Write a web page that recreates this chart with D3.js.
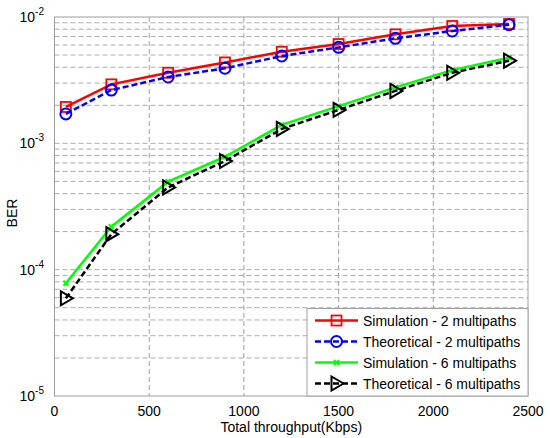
<!DOCTYPE html>
<html>
<head>
<meta charset="utf-8">
<script src="https://cdn.jsdelivr.net/npm/d3@7"></script>
<style>
  body { margin: 0; background: #fff; }
  text { font-family: "Liberation Sans", Arial, sans-serif; fill: #000; }
</style>
</head>
<body>
<div id="chart"></div>
<script>
// data
var throughput = [60, 300, 600, 900, 1200, 1500, 1800, 2100, 2400];
var sim2 = [1.94e-3, 2.93e-3, 3.62e-3, 4.37e-3, 5.31e-3, 6.11e-3, 7.29e-3, 8.49e-3, 8.8e-3];
var theo2 = [1.71e-3, 2.64e-3, 3.35e-3, 3.93e-3, 4.91e-3, 5.75e-3, 6.78e-3, 7.75e-3, 8.7e-3];
var sim6 = [7.8e-5, 2.19e-4, 4.97e-4, 7.83e-4, 1.40e-3, 1.97e-3, 2.77e-3, 3.80e-3, 4.76e-3];
var theo6 = [5.93e-5, 1.91e-4, 4.48e-4, 7.24e-4, 1.30e-3, 1.84e-3, 2.60e-3, 3.62e-3, 4.51e-3];
var xTicks = [0, 500, 1000, 1500, 2000, 2500];
var yDecades = [-5, -4, -3, -2];
var seriesNames = ["Simulation - 2 multipaths", "Theoretical - 2 multipaths",
                   "Simulation - 6 multipaths", "Theoretical - 6 multipaths"];

var W = 550, H = 438;
var pLeft = 54.5, pRight = 528, pTop = 17, pBottom = 396;

var svg = d3.select("#chart").append("svg")
    .attr("width", W).attr("height", H);

var x = d3.scaleLinear().domain([0, 2500]).range([pLeft, pRight]);
var y = d3.scaleLog().domain([1e-5, 1e-2]).range([pBottom, pTop]);

//grid lines
var grid = svg.append("g");
var minorY = [];
yDecades.slice(0, 3).forEach(function(p){
  for (var m = 1; m <= 9; m++) minorY.push(m * Math.pow(10, p));
});
grid.selectAll("line.hy").data(minorY.filter(function(v){ return v > 1e-5; }))
  .enter().append("line")
    .attr("x1", pLeft).attr("x2", pRight)
    .attr("y1", function(d){ return y(d); })
    .attr("y2", function(d){ return y(d); })
    .attr("stroke", "#ababab").attr("stroke-width", 1)
    .attr("stroke-dasharray", "5,3");
grid.selectAll("line.vx").data(xTicks.slice(1, -1))
  .enter().append("line")
    .attr("y1", pTop).attr("y2", pBottom)
    .attr("x1", function(d){ return x(d); })
    .attr("x2", function(d){ return x(d); })
    .attr("stroke", "#a0a0a0").attr("stroke-width", 1)
    .attr("stroke-dasharray", "5,3");

//frame
svg.append("rect")
  .attr("x", pLeft).attr("y", pTop)
  .attr("width", pRight - pLeft).attr("height", pBottom - pTop)
  .attr("fill", "none").attr("stroke", "#a0a0a0").attr("stroke-width", 1);

//x tick labels
svg.selectAll("text.xt").data(xTicks).enter().append("text")
  .attr("x", function(d){ return x(d); })
  .attr("y", pBottom + 20)
  .attr("text-anchor", "middle")
  .style("font-size", "14px")
  .text(function(d){ return d; });

//y tick labels 10^p
var yt = svg.selectAll("text.yt").data(yDecades).enter().append("text")
  .attr("x", 44)
  .attr("y", function(d){ return y(Math.pow(10, d)) + 5; })
  .attr("text-anchor", "end")
  .style("font-size", "14px");
yt.append("tspan").text("10");
yt.append("tspan").attr("dy", -7).style("font-size", "10px")
  .text(function(d){ return "-" + Math.abs(d); });

//axis titles
svg.append("text")
  .attr("x", (pLeft + pRight) / 2).attr("y", 432)
  .attr("text-anchor", "middle").style("font-size", "14px")
  .text("Total throughput(Kbps)");
svg.append("text")
  .attr("transform", "translate(17," + 213 + ") rotate(-90)")
  .attr("text-anchor", "middle").style("font-size", "14px")
  .text("BER");

//series
var styles = [
  { vals: sim2, color: "#ff0000", dash: null, marker: "square" },
  { vals: theo2, color: "#0000ff", dash: "6,3", marker: "circle" },
  { vals: sim6, color: "#00ff00", dash: null, marker: "x" },
  { vals: theo6, color: "#000000", dash: "6,3", marker: "tri" }
];

var line = d3.line()
  .x(function(d){ return x(d[0]); })
  .y(function(d){ return y(d[1]); });

function drawMarker(g, type, color){
  if (type == "square") {
    g.append("rect").attr("x", -5).attr("y", -5).attr("width", 10).attr("height", 10)
      .attr("fill", "none").attr("stroke", color).attr("stroke-width", 1.8);
  } else if (type == "circle") {
    g.append("circle").attr("r", 5.5)
      .attr("fill", "none").attr("stroke", color).attr("stroke-width", 2);
  } else if (type == "x") {
    g.append("path").attr("d", "M-2.5,-2.5L2.5,2.5M-2.5,2.5L2.5,-2.5")
      .attr("stroke", color).attr("stroke-width", 2);
  } else {
    g.append("path").attr("d", "M-5,-7L7,0L-5,7Z")
      .attr("fill", "none").attr("stroke", color).attr("stroke-width", 2);
  }
}

var plot = svg.append("g");
styles.forEach(function(s){
  var pts = throughput.map(function(t, i){ return [t, s.vals[i]]; });
  plot.append("path").attr("d", line(pts))
    .attr("fill", "none").attr("stroke", s.color).attr("stroke-width", 2.5)
    .attr("stroke-dasharray", s.dash);
  pts.forEach(function(p){
    var g = plot.append("g").attr("transform", "translate(" + x(p[0]) + "," + y(p[1]) + ")");
    drawMarker(g, s.marker, s.color);
  });
});

//legend
var lg = svg.append("g");
lg.append("rect").attr("x", 307).attr("y", 308.5).attr("width", 221).attr("height", 87.5)
  .attr("fill", "#fff").attr("stroke", "#a0a0a0").attr("stroke-width", 1);
styles.forEach(function(s, i){
  var ly = 320.5 + i * 21;
  lg.append("line").attr("x1", 315).attr("x2", 358).attr("y1", ly).attr("y2", ly)
    .attr("stroke", s.color).attr("stroke-width", 2.5).attr("stroke-dasharray", s.dash);
  drawMarker(lg.append("g").attr("transform", "translate(336.5," + ly + ")"), s.marker, s.color);
  lg.append("text").attr("x", 363).attr("y", ly + 5).style("font-size", "14px")
    .text(seriesNames[i]);
});
</script>
</body>
</html>
